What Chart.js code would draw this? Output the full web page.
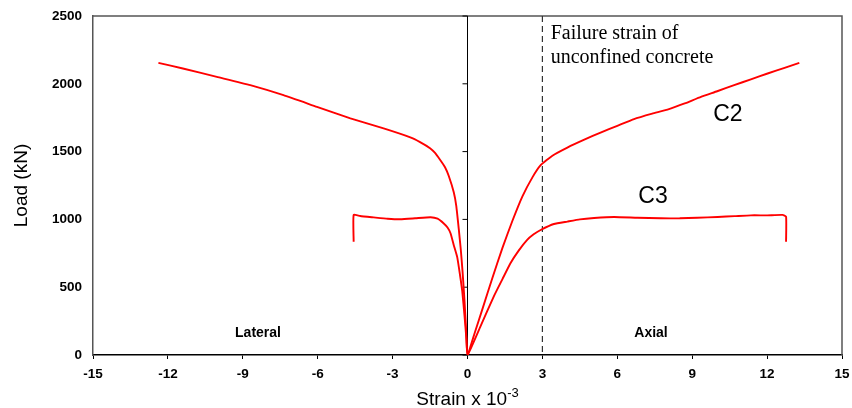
<!DOCTYPE html>
<html>
<head>
<meta charset="utf-8">
<script src="https://cdn.jsdelivr.net/npm/chart.js@4.4.1/dist/chart.umd.min.js"></script>
<style>
  body { margin: 0; background: #fff; }
  #wrap { width: 852px; height: 408px; }
</style>
</head>
<body>
<div id="wrap"><canvas id="theChart"></canvas></div>
<script>
// strain (x10^-3) and load (kN)
const c2Strain = [-12.38, -11.4, -10.04, -8.7, -7.37, -6.03, -4.69, -3.36, -2.29, -1.9, -1.5, -1.3, -1.1, -0.9, -0.75, -0.55, -0.45, -0.35, -0.27, -0.2, -0.12, -0.06, 0,
  0.3, 0.6, 1.0, 1.4, 1.8, 2.2, 2.6, 2.93, 3.4, 4.0, 4.7, 5.33, 6.0, 6.67, 7.4, 8.01, 8.7, 9.35, 10.0, 10.68, 11.35, 12.02, 12.7, 13.29];
const c2Load = [2154, 2113, 2051, 1990, 1916, 1830, 1745, 1671, 1605, 1570, 1525, 1490, 1440, 1385, 1320, 1200, 1100, 930, 780, 620, 400, 200, 0,
  170, 340, 570, 790, 990, 1170, 1310, 1400, 1470, 1530, 1590, 1640, 1690, 1740, 1780, 1810, 1855, 1904, 1945, 1990, 2033, 2076, 2118, 2154];

const c3Strain = [-4.56, -4.56, -4.3, -3.76, -3.2, -2.69, -2.1, -1.48, -1.2, -0.95, -0.8, -0.68, -0.55, -0.41, -0.3, -0.21, -0.12, -0.04, 0,
  0.52, 1.05, 1.4, 1.72, 2.05, 2.39, 2.65, 2.93, 3.46, 4.0, 4.5, 5.07, 5.87, 6.8, 7.74, 8.5, 9.2, 10.02, 10.7, 11.35, 12.0, 12.62, 12.76, 12.76];
const c3Load = [836, 1033, 1025, 1015, 1005, 1001, 1008, 1016, 1005, 970, 940, 898, 810, 720, 590, 470, 290, 110, 0,
  211, 431, 560, 677, 770, 849, 890, 922, 966, 984, 1000, 1010, 1018, 1012, 1008, 1008, 1012, 1018, 1024, 1030, 1030, 1033, 1020, 836];

const xTicks = [-15, -12, -9, -6, -3, 0, 3, 6, 9, 12, 15];
const yTicks = [0, 500, 1000, 1500, 2000, 2500];
const failureStrain = 3;

function toPoints(xs, ys) {
  return xs.map((x, i) => ({x: x, y: ys[i]}));
}

const tickFont = {family: 'Liberation Sans, Arial', size: 13.5, weight: 'bold'};

// frame, axis through zero, dashed failure line and the text notes
const extras = {
  id: 'extras',
  beforeDatasetsDraw(chart) {
    const ctx = chart.ctx;
    const a = chart.chartArea;
    const xs = chart.scales.x, ys = chart.scales.y;
    ctx.save();
    ctx.strokeStyle = '#555';
    ctx.lineWidth = 1.5;
    ctx.beginPath();
    ctx.moveTo(a.left, a.top); ctx.lineTo(a.right, a.top); ctx.lineTo(a.right, a.bottom);
    ctx.stroke();

    const x0 = xs.getPixelForValue(0);
    ctx.strokeStyle = '#000';
    ctx.lineWidth = 1;
    ctx.beginPath();
    ctx.moveTo(x0, a.top); ctx.lineTo(x0, a.bottom);
    yTicks.forEach(v => {
      const y = ys.getPixelForValue(v);
      ctx.moveTo(x0 - 5, y); ctx.lineTo(x0, y);
    });
    ctx.stroke();

    const xf = xs.getPixelForValue(failureStrain);
    ctx.strokeStyle = '#333';
    ctx.lineWidth = 1.2;
    ctx.setLineDash([6, 4]);
    ctx.beginPath();
    ctx.moveTo(xf, a.top); ctx.lineTo(xf, a.bottom);
    ctx.stroke();
    ctx.restore();
  },
  afterDraw(chart) {
    const ctx = chart.ctx;
    const a = chart.chartArea;
    const xs = chart.scales.x, ys = chart.scales.y;
    const px = v => xs.getPixelForValue(v);
    const py = v => ys.getPixelForValue(v);
    ctx.save();
    ctx.fillStyle = '#000';
    ctx.textBaseline = 'alphabetic';
    ctx.textAlign = 'left';

    ctx.font = '20px "Liberation Serif", "Times New Roman", serif';
    ctx.fillText('Failure strain of', px(3.33), py(2328));
    ctx.fillText('unconfined concrete', px(3.33), py(2152));

    ctx.font = '23px "Liberation Sans", Arial';
    ctx.fillText('C2', px(9.84), py(1725));
    ctx.fillText('C3', px(6.84), py(1121));

    ctx.font = 'bold 14px "Liberation Sans", Arial';
    ctx.fillText('Lateral', px(-9.31), py(130));
    ctx.fillText('Axial', px(6.68), py(130));

    // x axis title with superscript
    const main = 'Strain x 10', sup = '-3';
    ctx.font = '19px "Liberation Sans", Arial';
    const w1 = ctx.measureText(main).width;
    ctx.font = '13px "Liberation Sans", Arial';
    const w2 = ctx.measureText(sup).width;
    const start = (a.left + a.right) / 2 - (w1 + w2) / 2;
    ctx.font = '19px "Liberation Sans", Arial';
    ctx.fillText(main, start, 405);
    ctx.font = '13px "Liberation Sans", Arial';
    ctx.fillText(sup, start + w1, 397);
    ctx.restore();
  }
};

new Chart(document.getElementById('theChart').getContext('2d'), {
  type: 'scatter',
  data: {
    datasets: [
      {label: 'C2', data: toPoints(c2Strain, c2Load)},
      {label: 'C3', data: toPoints(c3Strain, c3Load)}
    ].map(d => Object.assign(d, {
      showLine: true,
      borderColor: '#ff0000',
      borderWidth: 1.9,
      pointRadius: 0,
      tension: 0.15,
      fill: false
    }))
  },
  options: {
    responsive: true,
    maintainAspectRatio: false,
    animation: false,
    layout: {padding: {top: 16, right: 10, bottom: 0, left: 0}},
    plugins: {legend: {display: false}, tooltip: {enabled: false}},
    scales: {
      x: {
        type: 'linear',
        min: -15,
        max: 15,
        afterBuildTicks: s => { s.ticks = xTicks.map(v => ({value: v})); },
        afterFit: s => { s.height = 53; s.paddingLeft = 0; s.paddingRight = 0; },
        ticks: {font: tickFont, color: '#000', padding: 7, callback: v => String(v)},
        grid: {drawOnChartArea: false, drawTicks: true, tickLength: 4, color: '#000', lineWidth: 1},
        border: {display: true, color: '#000', width: 1.5}
      },
      y: {
        min: 0,
        max: 2500,
        afterBuildTicks: s => { s.ticks = yTicks.map(v => ({value: v})); },
        afterFit: s => { s.width = 93; s.paddingTop = 0; s.paddingBottom = 0; },
        ticks: {font: tickFont, color: '#000', padding: 11, callback: v => String(v)},
        grid: {display: false, drawTicks: false},
        border: {display: true, color: '#555', width: 1.5},
        title: {display: true, text: 'Load (kN)', color: '#000', font: {family: 'Liberation Sans, Arial', size: 19}, padding: {top: 10, bottom: 0}}
      }
    }
  },
  plugins: [extras]
});
</script>
</body>
</html>
